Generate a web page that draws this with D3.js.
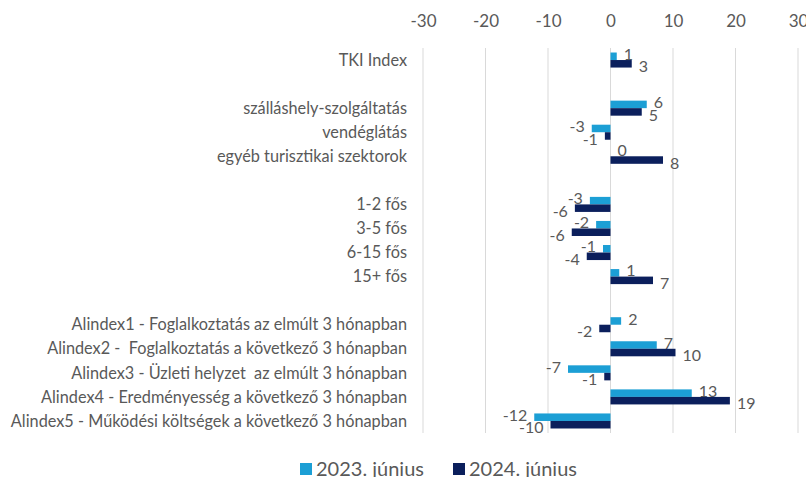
<!DOCTYPE html>
<html>
<head>
<meta charset="utf-8">
<script src="https://cdn.jsdelivr.net/npm/d3@7"></script>
<style>
  body { margin: 0; background: #fff; }
  text { font-family: Lato, "Open Sans", sans-serif; fill: #595959; }
</style>
</head>
<body>
<div id="chart"></div>
<script>
// chart data
const categories = [
    "TKI Index", "",
    "szálláshely-szolgáltatás", "vendéglátás", "egyéb turisztikai szektorok", "",
    "1-2 fős", "3-5 fős", "6-15 fős", "15+ fős", "",
    "Alindex1 - Foglalkoztatás az elmúlt 3 hónapban",
    "Alindex2 -  Foglalkoztatás a következő 3 hónapban",
    "Alindex3 - Üzleti helyzet  az elmúlt 3 hónapban",
    "Alindex4 - Eredményesség a következő 3 hónapban",
    "Alindex5 - Működési költségek a következő 3 hónapban"
];
const seriesNames = ["2023. június", "2024. június"];
const values2023 = [1.0, null, 5.8, -3.0, 0, null, -3.3, -2.3, -1.2, 1.4, null, 1.7, 7.4, -6.8, 13.0, -12.2];
const values2024 = [3.4, null, 5.0, -0.9, 8.4, null, -5.7, -6.2, -3.8, 6.8, null, -1.8, 10.4, -1.0, 19.1, -9.6];
const xTicks = [-30, -20, -10, 0, 10, 20, 30];

const width = 806;
const height = 477;
const margin = { top: 48, right: 8, bottom: 44, left: 423 };
const colors = ["#1c9fd5", "#0b1f5c"];

const svg = d3.select("#chart")
    .append("svg")
    .attr("width", width)
    .attr("height", height);

const xScale = d3.scaleLinear()
    .domain([-30, 30])
    .range([margin.left, 798]);

const yScale = d3.scaleBand()
    .domain(d3.range(categories.length))
    .range([margin.top, height - margin.bottom]);

const inner = d3.scaleBand()
    .domain([0, 1])
    .range([0, yScale.bandwidth()])
    .paddingOuter(0.6)
    .paddingInner(0);

// gridlines
svg.append("g")
    .selectAll("line")
    .data(xTicks)
    .join("line")
    .attr("x1", d => xScale(d))
    .attr("x2", d => xScale(d))
    .attr("y1", margin.top)
    .attr("y2", height - margin.bottom)
    .attr("stroke", "#d9d9d9")
    .attr("stroke-width", 1);

// top axis (plain hyphen for minus, like the original)
const xAxis = d3.axisTop(xScale)
    .tickValues(xTicks)
    .tickFormat(d => String(d))
    .tickSize(0)
    .tickPadding(0);
svg.append("g")
    .attr("transform", "translate(0,27)")
    .call(xAxis)
    .call(g => g.select(".domain").remove())
    .call(g => g.selectAll("text")
        .attr("fill", "#595959")
        .style("font-family", "Lato, sans-serif")
        .style("font-size", "17px")
        .attr("dy", "0"));

// category labels
svg.append("g")
    .selectAll("text")
    .data(categories)
    .join("text")
    .attr("x", 407)
    .attr("y", (d, i) => yScale(i) + yScale.bandwidth() / 2)
    .attr("dy", "0.35em")
    .attr("text-anchor", "end")
    .style("font-size", "16.3px")
    .style("white-space", "pre")
    .text(d => d);

// bars
const series = [values2023, values2024];
const fmt = v => String(Math.round(v));

series.forEach((vals, s) => {
    const rows = vals.map((v, i) => ({ i, v })).filter(d => d.v !== null);
    const g = svg.append("g");
    g.selectAll("rect")
        .data(rows)
        .join("rect")
        .attr("x", d => xScale(Math.min(0, d.v)))
        .attr("width", d => Math.abs(xScale(d.v) - xScale(0)))
        .attr("y", d => yScale(d.i) + inner(s))
        .attr("height", inner.bandwidth())
        .attr("fill", colors[s]);

    g.selectAll("text")
        .data(rows)
        .join("text")
        .attr("x", d => d.v < 0 ? xScale(d.v) - 7 : xScale(d.v) + 7)
        .attr("y", d => yScale(d.i) + inner(s) + inner.bandwidth() / 2 + (s === 0 ? -2 : 3))
        .attr("dy", "0.35em")
        .attr("text-anchor", d => d.v < 0 ? "end" : "start")
        .style("font-size", "16px")
        .text(d => fmt(d.v));
});

// legend
const legend = svg.append("g").attr("transform", "translate(300,469)");
const legendX = [0, 153];
seriesNames.forEach((name, s) => {
    legend.append("rect")
        .attr("x", legendX[s])
        .attr("y", -6)
        .attr("width", 12)
        .attr("height", 12)
        .attr("fill", colors[s]);
    legend.append("text")
        .attr("x", legendX[s] + 16)
        .attr("y", 0)
        .attr("dy", "0.35em")
        .style("font-size", "20px")
        .text(name);
});
</script>
</body>
</html>
